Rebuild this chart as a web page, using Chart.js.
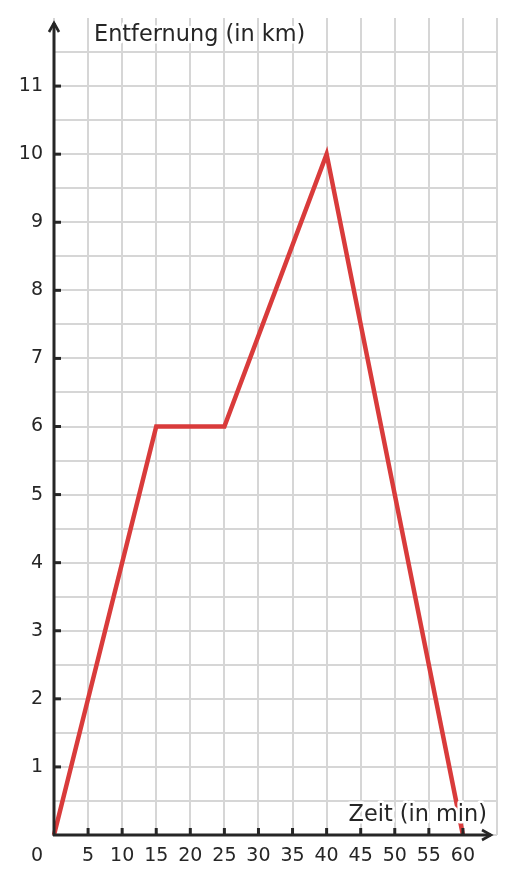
<!DOCTYPE html>
<html><head><meta charset="utf-8">
<script src="https://cdn.jsdelivr.net/npm/chart.js@4.4.1/dist/chart.umd.min.js"></script>
<style>html,body{margin:0;padding:0;background:#fff;}#wrap{width:515px;height:884px;}</style>
</head><body><div id="wrap"><canvas id="c" width="515" height="884"></canvas></div>
<script>
const timeMin = [0, 15, 25, 40, 60];
const distanceKm = [0, 6, 6, 10, 0];
const xTickLabels = [5, 10, 15, 20, 25, 30, 35, 40, 45, 50, 55, 60];
const yTickLabels = [1, 2, 3, 4, 5, 6, 7, 8, 9, 10, 11];
const xTitle = 'Zeit (in min)';
const yTitle = 'Entfernung (in km)';

const FONT = 'DejaVu Sans';
const AXIS = '#262626';

const axesPlugin = {
  id: 'axesPlugin',
  afterDatasetsDraw(chart) {
    const ctx = chart.ctx, xs = chart.scales.x, ys = chart.scales.y;
    const x0 = xs.getPixelForValue(0), y0 = ys.getPixelForValue(0);
    ctx.save();
    ctx.strokeStyle = AXIS; ctx.fillStyle = AXIS;
    ctx.lineWidth = 3; ctx.lineCap = 'butt';
    // y axis
    ctx.beginPath(); ctx.moveTo(x0, y0 + 1); ctx.lineTo(x0, 23); ctx.stroke();
    ctx.lineWidth = 2.6; ctx.lineJoin = 'miter';
    ctx.beginPath(); ctx.moveTo(x0 - 5, 32); ctx.lineTo(x0, 23); ctx.lineTo(x0 + 5, 32); ctx.stroke();
    // x axis
    ctx.lineWidth = 3;
    ctx.beginPath(); ctx.moveTo(x0 - 1, y0); ctx.lineTo(491, y0); ctx.stroke();
    ctx.lineWidth = 2.6;
    ctx.beginPath(); ctx.moveTo(482, y0 - 5); ctx.lineTo(491, y0); ctx.lineTo(482, y0 + 5); ctx.stroke();
    // ticks
    ctx.lineWidth = 3;
    yTickLabels.forEach(v => { const p = ys.getPixelForValue(v); ctx.beginPath(); ctx.moveTo(x0, p); ctx.lineTo(x0 + 7, p); ctx.stroke(); });
    xTickLabels.forEach(v => { const p = xs.getPixelForValue(v); ctx.beginPath(); ctx.moveTo(p, y0); ctx.lineTo(p, y0 - 7); ctx.stroke(); });
    // origin label
    ctx.font = '19px "' + FONT + '"';
    ctx.textAlign = 'center'; ctx.textBaseline = 'middle';
    ctx.fillText('0', 37, 856);
    // titles with white halo
    ctx.font = '22.4px "' + FONT + '"';
    ctx.textBaseline = 'middle';
    ctx.lineWidth = 5; ctx.strokeStyle = '#fff'; ctx.lineJoin = 'round';
    ctx.textAlign = 'left';
    ctx.strokeText(yTitle, 94, 35); ctx.fillText(yTitle, 94, 35);
    ctx.textAlign = 'right';
    ctx.strokeText(xTitle, 487, 815); ctx.fillText(xTitle, 487, 815);
    ctx.restore();
  }
};

new Chart(document.getElementById('c'), {
  type: 'line',
  data: {
    datasets: [{
      data: timeMin.map((t, i) => ({ x: t, y: distanceKm[i] })),
      borderColor: '#d93b3b',
      borderWidth: 4.5,
      pointRadius: 0,
      tension: 0,
      fill: false,
      clip: false
    }]
  },
  options: {
    responsive: false,
    animation: false,
    devicePixelRatio: 1,
    layout: { padding: { top: 18, right: 18, left: 0, bottom: 0 } },
    plugins: { legend: { display: false }, tooltip: { enabled: false } },
    scales: {
      x: {
        type: 'linear', min: 0, max: 65,
        border: { display: false },
        grid: { color: '#d6d6d6', lineWidth: 2, drawTicks: false },
        ticks: {
          stepSize: 5, padding: 10, color: AXIS, maxRotation: 0, autoSkip: false,
          font: { family: FONT, size: 19 },
          callback: v => xTickLabels.includes(v) ? String(v) : ''
        },
        afterFit: s => { s.height = 49; s.paddingLeft = 0; s.paddingRight = 0; }
      },
      y: {
        type: 'linear', min: 0, max: 12,
        border: { display: false },
        grid: { color: c => (c.tick && c.tick.value === 12) ? 'rgba(0,0,0,0)' : '#d6d6d6', lineWidth: 2, drawTicks: false },
        ticks: {
          stepSize: 0.5, padding: 11, color: AXIS, autoSkip: false,
          font: { family: FONT, size: 19 },
          callback: v => yTickLabels.includes(v) ? String(v) : ''
        },
        afterFit: s => { s.width = 54; s.paddingTop = 0; s.paddingBottom = 0; }
      }
    }
  },
  plugins: [axesPlugin]
});
</script></body></html>
